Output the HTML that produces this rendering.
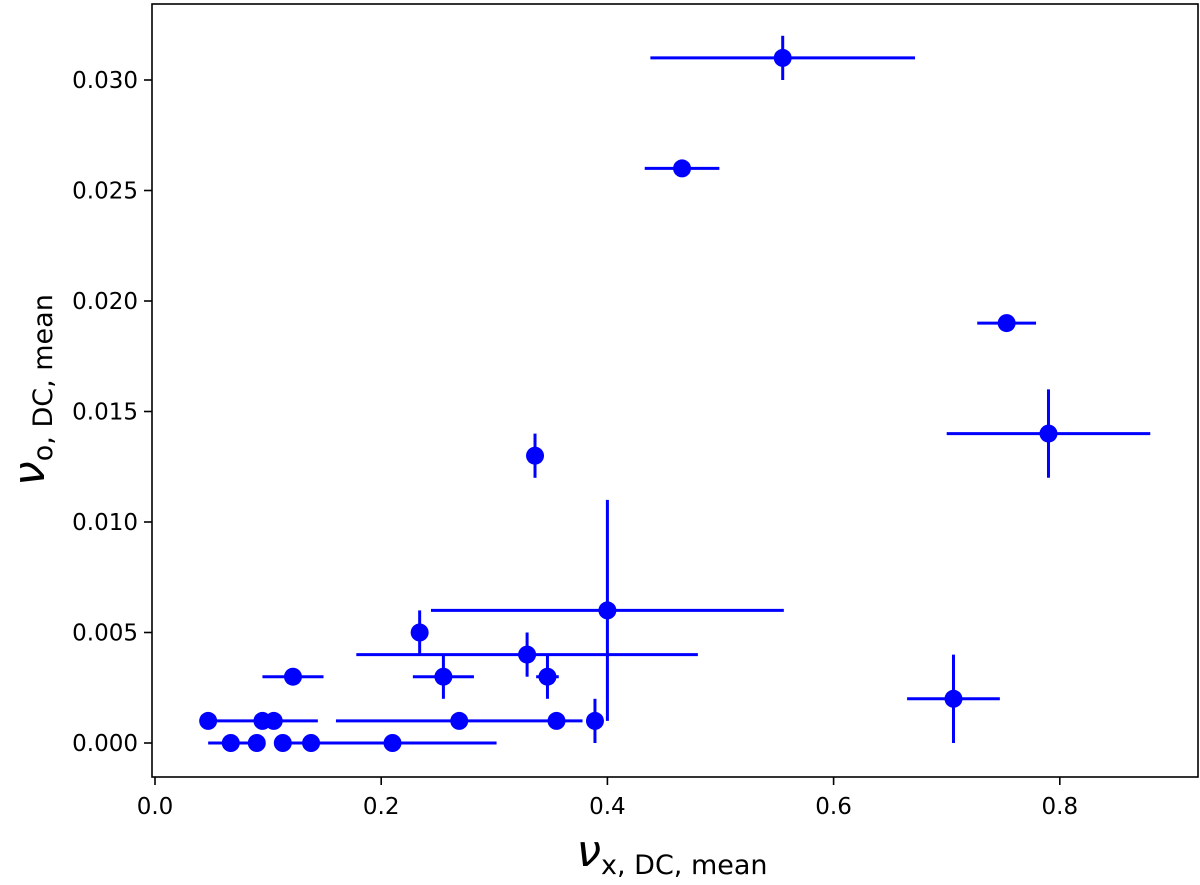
<!DOCTYPE html>
<html><head><meta charset="utf-8"><style>
body{margin:0;background:#fff}
svg{display:block;font-family:"DejaVu Sans","Liberation Sans",sans-serif}
</style></head><body>
<svg id="chart" width="1200" height="885" viewBox="0 0 1200 885" xmlns="http://www.w3.org/2000/svg">
<rect x="152" y="4" width="1046" height="773" fill="#fff" stroke="#000" stroke-width="1.6"/>
<g id="ticks"></g>
<g id="marks"></g>
<text x="672" y="866" font-size="44" text-anchor="middle" font-style="italic">ν<tspan font-size="27" font-style="normal" dy="8">x, DC, mean</tspan></text>
<text transform="translate(44,390) rotate(-90)" font-size="44" text-anchor="middle" font-style="italic">ν<tspan font-size="27" font-style="normal" dy="8">o, DC, mean</tspan></text>
</svg>
<script>
const xs   =[0.555,0.466,0.753,0.790,0.336,0.400,0.234,0.329,0.255,0.347,0.122,0.706,0.047,0.095,0.105,0.269,0.355,0.389,0.067,0.090,0.113,0.138,0.210];
const ys   =[0.031,0.026,0.019,0.014,0.013,0.006,0.005,0.004,0.003,0.003,0.003,0.002,0.001,0.001,0.001,0.001,0.001,0.001,0,0,0,0,0];
const xerr =[0.117,0.033,0.026,0.090,0,0.156,0,0.151,0.027,0.010,0.027,0.041,0,0.049,0,0.109,0,0,0.020,0,0,0,0.092];
const yerr =[0.001,0,0,0.002,0.001,0.005,0.001,0.001,0.001,0.001,0,0.002,0,0,0,0,0,0.001,0,0,0,0,0];
const xticks=[0,0.2,0.4,0.6,0.8];
const xtickLabels=["0.0","0.2","0.4","0.6","0.8"];
const yticks=[0,0.005,0.010,0.015,0.020,0.025,0.030];
const ytickLabels=["0.000","0.005","0.010","0.015","0.020","0.025","0.030"];
const X=v=>155+v*1131, Y=v=>743-v*22100;
const NS="http://www.w3.org/2000/svg";
function mk(t,a,p){const e=document.createElementNS(NS,t);for(const k in a)e.setAttribute(k,a[k]);p.appendChild(e);return e;}
const tg=document.getElementById('ticks'), mg=document.getElementById('marks');
xticks.forEach((v,i)=>{
 const l=mk('line',{x1:X(v),x2:X(v),y1:777,y2:785,stroke:'#000','stroke-width':1.6},tg);
 
 
 const t=mk('text',{x:X(v),y:814,'font-size':23,'text-anchor':'middle'},tg);t.textContent=xtickLabels[i];
 
 
});
yticks.forEach((v,i)=>{
 const l=mk('line',{x1:144,x2:152,y1:Y(v),y2:Y(v),stroke:'#000','stroke-width':1.6},tg);
 
 
 const t=mk('text',{x:138,y:Y(v)+8,'font-size':23,'text-anchor':'end'},tg);t.textContent=ytickLabels[i];
 
 
});
xs.forEach((x,i)=>{
 const g=mk('g',{},mg);
 
 
 if(xerr[i]>0)mk('line',{x1:X(x-xerr[i]),x2:X(x+xerr[i]),y1:Y(ys[i]),y2:Y(ys[i]),stroke:'#0000ff','stroke-width':3},g);
 if(yerr[i]>0)mk('line',{x1:X(x),x2:X(x),y1:Y(ys[i]-yerr[i]),y2:Y(ys[i]+yerr[i]),stroke:'#0000ff','stroke-width':3},g);
 mk('circle',{cx:X(x),cy:Y(ys[i]),r:9,fill:'#0000ff'},g);
});
</script>
</body></html>
